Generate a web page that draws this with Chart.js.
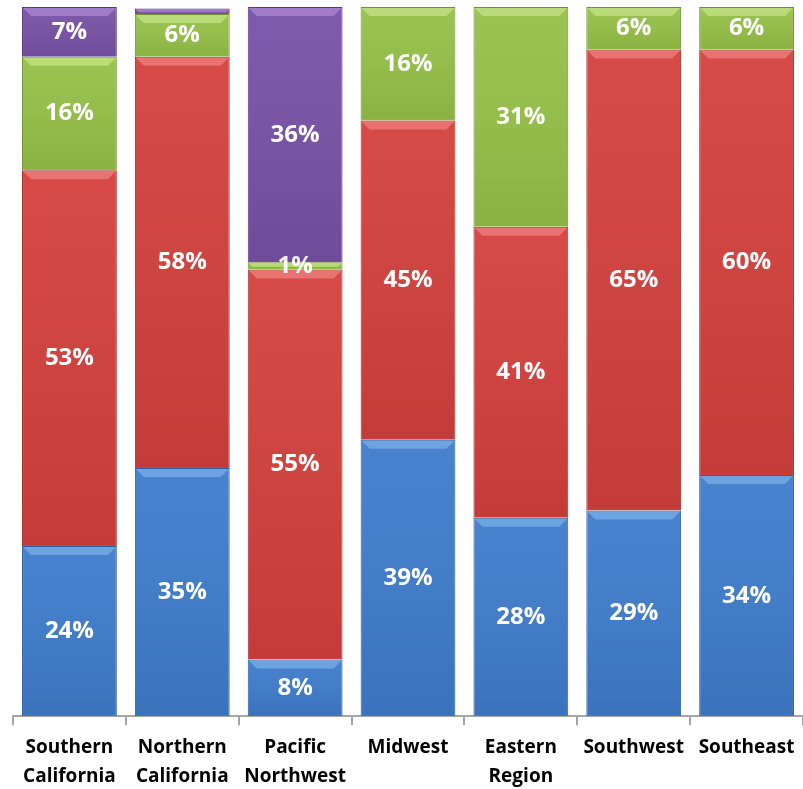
<!DOCTYPE html>
<html>
<head>
<meta charset="utf-8">
<script src="https://cdn.jsdelivr.net/npm/chart.js@4/dist/chart.umd.min.js"></script>
<style>
  html, body { margin: 0; padding: 0; background: #fff; }
  #wrap { width: 803px; height: 789px; }
</style>
</head>
<body>
<div id="wrap"><canvas id="chart"></canvas></div>
<script>
// ---- data ----
const regions = [
  ['Southern', 'California'],
  ['Northern', 'California'],
  ['Pacific', 'Northwest'],
  'Midwest',
  ['Eastern', 'Region'],
  'Southwest',
  'Southeast'
];
const blueVals   = [24, 35, 8, 39, 28, 29, 34];
const redVals    = [53, 58, 55, 45, 41, 65, 60];
const greenVals  = [16, 6, 1, 16, 31, 6, 6];
const purpleVals = [7, 0.8, 36, 0, 0, 0, 0];

const colors = {
  blue:   { fill: '#3f7ccc', edge: '#2f5f9e', light: '#7fb0ea' },
  red:    { fill: '#d4403d', edge: '#a02e2c', light: '#f08582' },
  green:  { fill: '#95c148', edge: '#6f9130', light: '#c6e68a' },
  purple: { fill: '#7852a6', edge: '#563a7c', light: '#ae8ad6' }
};

Chart.defaults.font.family = "'Open Sans', 'Lato', sans-serif";
Chart.defaults.color = '#000';

function ds(label, data, c) {
  return {
    label, data,
    backgroundColor: c.fill,
    borderColor: c.edge,
    borderWidth: 1,
    light: c.light,
    barPercentage: 0.84,
    categoryPercentage: 1.0
  };
}

// bevel highlight on top of each segment + percent label
const bevelAndLabels = {
  id: 'bevelAndLabels',
  afterDatasetsDraw(chart) {
    const ctx = chart.ctx;
    chart.data.datasets.forEach((d, di) => {
      const meta = chart.getDatasetMeta(di);
      meta.data.forEach((bar, i) => {
        const v = d.data[i];
        if (!v) return;
        const left = bar.x - bar.width / 2, right = bar.x + bar.width / 2;
        const top = bar.y, bottom = bar.base;
        const h = bottom - top;
        ctx.save();
        const g = ctx.createLinearGradient(0, top, 0, bottom);
        g.addColorStop(0, 'rgba(255,255,255,0.05)');
        g.addColorStop(1, 'rgba(0,0,0,0.08)');
        ctx.fillStyle = g;
        ctx.fillRect(left + 1, top + 1, bar.width - 2, h - 2);
        // top bevel
        const bh = Math.min(8, h / 2);
        ctx.beginPath();
        ctx.moveTo(left + 1, top + 1);
        ctx.lineTo(right - 1, top + 1);
        ctx.lineTo(right - 1 - bh, top + 1 + bh);
        ctx.lineTo(left + 1 + bh, top + 1 + bh);
        ctx.closePath();
        ctx.fillStyle = d.light;
        ctx.globalAlpha = 0.7;
        ctx.fill();
        ctx.restore();
        if (v >= 1) {
          ctx.save();
          ctx.fillStyle = '#fff';
          ctx.font = "bold 24px 'Open Sans', 'Lato', sans-serif";
          ctx.textAlign = 'center';
          ctx.textBaseline = 'middle';
          ctx.fillText(Math.round(v) + '%', bar.x, (top + bottom) / 2);
          ctx.restore();
        }
      });
    });
  }
};

new Chart(document.getElementById('chart'), {
  type: 'bar',
  data: {
    labels: regions,
    datasets: [
      ds('Blue', blueVals, colors.blue),
      ds('Red', redVals, colors.red),
      ds('Green', greenVals, colors.green),
      ds('Purple', purpleVals, colors.purple)
    ]
  },
  options: {
    responsive: true, maintainAspectRatio: false,
    animation: false,
    layout: { padding: { left: 13, top: 7, right: 0, bottom: -10 } },
    plugins: { legend: { display: false }, tooltip: { enabled: false } },
    scales: {
      x: {
        stacked: true,
        border: { color: '#a6a6a6', width: 2 },
        grid: { drawOnChartArea: false, drawTicks: true, tickLength: 9, color: '#a6a6a6', lineWidth: 2 },
        ticks: { font: { size: 19, weight: 'bold', lineHeight: 1.52 }, color: '#000', padding: 8, maxRotation: 0 }
      },
      y: { stacked: true, display: false, min: 0, max: 100 }
    }
  },
  plugins: [bevelAndLabels]
});
</script>
</body>
</html>
